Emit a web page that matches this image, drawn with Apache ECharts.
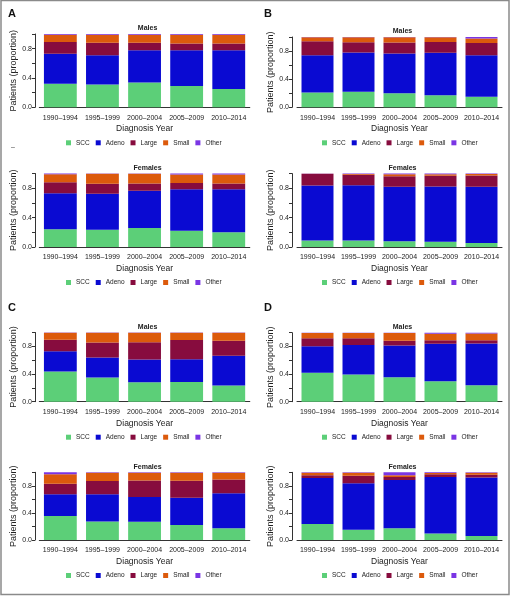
<!DOCTYPE html>
<html><head><meta charset="utf-8">
<script src="https://cdn.jsdelivr.net/npm/echarts@6/dist/echarts.min.js"></script>
<style>html,body{margin:0;padding:0;background:#fff}#c{width:512px;height:596px}</style>
</head><body><div id="c"></div>
<script>
// ---- data ----
const categories = ['1990–1994','1995–1999','2000–2004','2005–2009','2010–2014'];
const typeNames = ['SCC','Adeno','Large','Small','Other'];
const yTicks = [0, 0.4, 0.8];
// rows: SCC, Adeno, Large, Small, Other ; columns: categories
const aMales = [
  [0.32, 0.31, 0.34, 0.29, 0.25],
  [0.41, 0.40, 0.44, 0.49, 0.53],
  [0.16, 0.17, 0.10, 0.09, 0.09],
  [0.10, 0.11, 0.11, 0.12, 0.12],
  [0.01, 0.01, 0.01, 0.01, 0.01]
];
const aFemales = [
  [0.24, 0.235, 0.26, 0.22, 0.20],
  [0.49, 0.49, 0.505, 0.565, 0.585],
  [0.15, 0.135, 0.10, 0.085, 0.08],
  [0.11, 0.135, 0.13, 0.115, 0.12],
  [0.01, 0.005, 0.005, 0.015, 0.015]
];
const bMales = [
  [0.21, 0.22, 0.20, 0.17, 0.15],
  [0.53, 0.56, 0.565, 0.605, 0.59],
  [0.20, 0.145, 0.155, 0.155, 0.175],
  [0.055, 0.07, 0.075, 0.065, 0.065],
  [0.005, 0.005, 0.005, 0.005, 0.02]
];
const bFemales = [
  [0.087, 0.09, 0.08, 0.07, 0.055],
  [0.75, 0.75, 0.74, 0.755, 0.765],
  [0.158, 0.145, 0.145, 0.145, 0.155],
  [0.003, 0.01, 0.025, 0.02, 0.02],
  [0.002, 0.005, 0.01, 0.01, 0.005]
];
const cMales = [
  [0.435, 0.35, 0.28, 0.285, 0.235],
  [0.295, 0.29, 0.33, 0.33, 0.43],
  [0.165, 0.215, 0.25, 0.275, 0.215],
  [0.10, 0.14, 0.135, 0.105, 0.115],
  [0.005, 0.005, 0.005, 0.005, 0.005]
];
const cFemales = [
  [0.355, 0.275, 0.27, 0.22, 0.175],
  [0.32, 0.40, 0.365, 0.405, 0.515],
  [0.155, 0.195, 0.245, 0.25, 0.205],
  [0.14, 0.125, 0.115, 0.12, 0.10],
  [0.03, 0.005, 0.005, 0.005, 0.005]
];
const dMales = [
  [0.42, 0.395, 0.355, 0.295, 0.24],
  [0.385, 0.425, 0.46, 0.545, 0.605],
  [0.115, 0.10, 0.07, 0.05, 0.045],
  [0.075, 0.075, 0.11, 0.095, 0.10],
  [0.005, 0.005, 0.005, 0.015, 0.01]
];
const dFemales = [
  [0.235, 0.15, 0.175, 0.095, 0.06],
  [0.68, 0.69, 0.71, 0.835, 0.865],
  [0.04, 0.11, 0.045, 0.04, 0.04],
  [0.04, 0.045, 0.025, 0.02, 0.03],
  [0.005, 0.005, 0.045, 0.01, 0.005]
];

// ---- style / layout ----
const colors = ['#5ccf78', '#0a0ad2', '#870c3e', '#dc5a0c', '#7a35e4'];
const TXT = '#222';
const FONT = 'Liberation Sans, Arial, sans-serif';
const panels = [
  {d: aMales,   t: 'Males',   left: 39.3, width: 210.5, top: 34,    height: 73.3, off: 4.3, lx: 66},
  {d: aFemales, t: 'Females', left: 39.3, width: 210.5, top: 173.5, height: 73.5, off: 4.3, lx: 66},
  {d: cMales,   t: 'Males',   left: 39.3, width: 210.5, top: 332.5, height: 69.2, off: 4.3, lx: 66},
  {d: cFemales, t: 'Females', left: 39.3, width: 210.5, top: 472.3, height: 67.7, off: 4.3, lx: 66},
  {d: bMales,   t: 'Males',   left: 297,  width: 205,   top: 37,    height: 70.3, off: 5,   lx: 322},
  {d: bFemales, t: 'Females', left: 297,  width: 205,   top: 173.6, height: 73.4, off: 5,   lx: 322},
  {d: dMales,   t: 'Males',   left: 297,  width: 205,   top: 332.7, height: 69.0, off: 5,   lx: 322},
  {d: dFemales, t: 'Females', left: 297,  width: 205,   top: 472.3, height: 67.7, off: 5,   lx: 322}
];

const grid = [], xAxis = [], yAxis = [], series = [], title = [], legend = [];
panels.forEach((p, i) => {
  const bottom = p.top + p.height;
  grid.push({left: p.left, top: p.top, width: p.width, height: p.height});
  xAxis.push({
    type: 'category', gridIndex: i, data: categories,
    axisTick: {show: false},
    axisLine: {show: true, lineStyle: {color: '#333', width: 1}},
    axisLabel: {fontSize: 7, color: TXT, fontFamily: FONT, margin: 7, interval: 0},
    name: 'Diagnosis Year', nameLocation: 'middle', nameGap: 17,
    nameTextStyle: {fontSize: 8.5, color: TXT, fontFamily: FONT}
  });
  yAxis.push({
    type: 'value', gridIndex: i, min: 0, max: 1, interval: 0.2, offset: p.off,
    splitLine: {show: false},
    axisLine: {show: true, lineStyle: {color: '#333', width: 1}},
    axisTick: {show: true, length: 3, lineStyle: {color: '#333'}},
    axisLabel: {fontSize: 7, color: TXT, fontFamily: FONT, margin: 3,
      formatter: v => yTicks.some(t => Math.abs(t - v) < 1e-6) ? v.toFixed(1) : ''},
    name: 'Patients (proportion)', nameLocation: 'middle', nameGap: 17, nameRotate: 90,
    nameTextStyle: {fontSize: 9, color: TXT, fontFamily: FONT}
  });
  typeNames.forEach((nm, k) => {
    series.push({
      type: 'bar', name: nm, stack: 's' + i, xAxisIndex: i, yAxisIndex: i,
      data: p.d[k], barCategoryGap: '22%', itemStyle: {color: colors[k]},
      emphasis: {disabled: true}, animation: false
    });
  });
  title.push({
    text: p.t, left: p.left + p.width / 2 - 2, top: p.top - 14, textAlign: 'center',
    textStyle: {fontSize: 7, fontWeight: 'bold', color: TXT, fontFamily: FONT}
  });
  legend.push({
    data: typeNames, left: p.lx, top: bottom + 32, itemWidth: 5, itemHeight: 5, itemGap: 6,
    icon: 'rect', padding: 0,
    textStyle: {fontSize: 6.5, color: TXT, fontFamily: FONT}
  });
});

[['A', 8, 8], ['B', 264, 8], ['C', 8, 302], ['D', 264, 302]].forEach(([t, x, y]) => {
  title.push({text: t, left: x, top: y, padding: 0,
    textStyle: {fontSize: 11, fontWeight: 'bold', color: '#111', fontFamily: FONT}});
});

const chart = echarts.init(document.getElementById('c'), null, {renderer: 'canvas'});
chart.setOption({
  animation: false,
  color: colors,
  title, legend, grid, xAxis, yAxis, series,
  graphic: [
    {type: 'rect', shape: {x: 1, y: 0.5, width: 508, height: 594}, style: {fill: 'none', stroke: '#8a8a8a', lineWidth: 1.5}, silent: true},
    {type: 'text', left: 11, top: 144, style: {text: '–', fontSize: 7, fill: '#444', fontFamily: FONT}, silent: true}
  ]
});
</script></body></html>
